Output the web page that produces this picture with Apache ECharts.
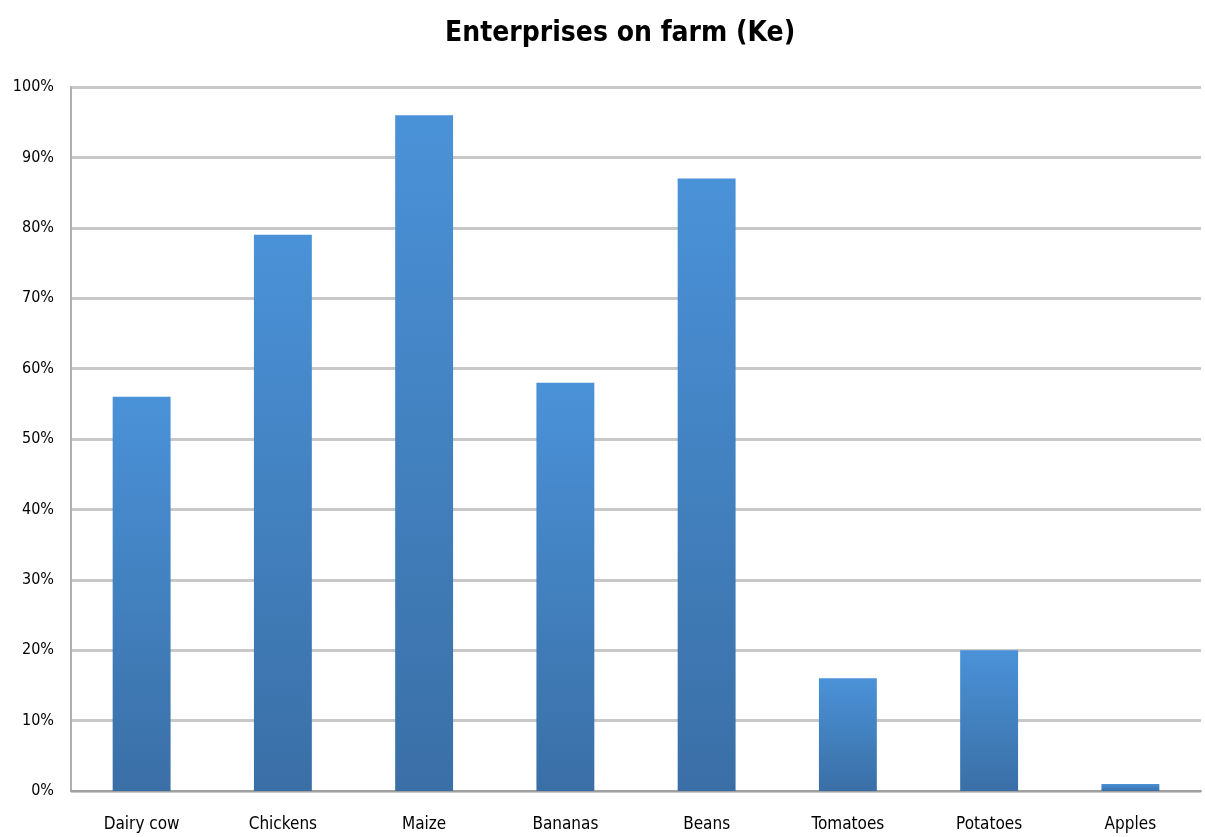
<!DOCTYPE html>
<html><head><meta charset="utf-8">
<script src="https://cdn.jsdelivr.net/npm/echarts@6/dist/echarts.min.js"></script>
<style>html,body{margin:0;padding:0;background:#fff}#c{width:1205px;height:837px}</style>
</head><body><div id="c"></div>
<script>
const categories = ["Dairy cow","Chickens","Maize","Bananas","Beans","Tomatoes","Potatoes","Apples"];
const values = [56, 79, 96, 58, 87, 16, 20, 1];
const yTicks = [0,10,20,30,40,50,60,70,80,90,100];
const title = "Enterprises on farm (Ke)";
const FONT = "'Liberation Sans Narrow','DejaVu Sans Condensed','Open Sans',sans-serif";
const chart = echarts.init(document.getElementById('c'));
chart.setOption({
  animation:false,
  title:{text:title,left:440,top:15,textStyle:{fontFamily:FONT,fontSize:28,fontWeight:'bold',color:'#000'}},
  grid:{left:71,right:4,top:87,bottom:46,containLabel:false},
  xAxis:{type:'category',data:categories,
    axisLine:{lineStyle:{color:'#a0a0a0',width:2}},axisTick:{show:false},
    axisLabel:{fontFamily:FONT,fontSize:17,color:'#000',margin:25}},
  yAxis:{type:'value',min:0,max:100,interval:10,
    axisLine:{show:true,lineStyle:{color:'#b0b0b0',width:2}},axisTick:{show:false},
    splitLine:{lineStyle:{color:'#c8c8c8',width:3}},
    axisLabel:{fontFamily:FONT,fontSize:16,color:'#000',margin:17,
      formatter:v=>yTicks.includes(v)?v+'%':''}},
  series:[{type:'bar',data:values,barWidth:'41%',
    itemStyle:{color:new echarts.graphic.LinearGradient(0,0,0,1,[{offset:0,color:'#4a92d8'},{offset:1,color:'#3a6fa6'}])}}]
});
</script></body></html>
